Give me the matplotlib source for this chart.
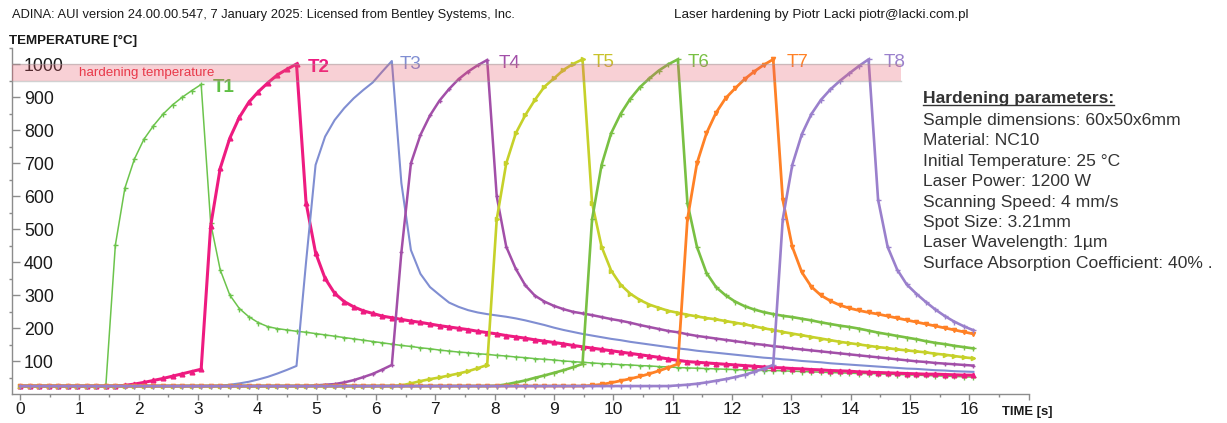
import numpy as np
import matplotlib
matplotlib.use('Agg')
import matplotlib.pyplot as plt
from matplotlib.lines import Line2D

plt.rcParams['font.family'] = ['Liberation Sans', 'DejaVu Sans']

# ---------------- data ----------------
time_step = 0.1607          # s, solver step
n_steps = 100
time = np.arange(n_steps + 1) * time_step

T1 = [25, 25, 25, 25, 25, 25, 25, 25, 25, 25,
      452, 625, 713, 773, 814, 849, 877, 900, 920, 939,
      518, 377, 301, 260, 235, 217, 205, 199, 195, 191,
      188, 184, 180, 176, 172, 168, 164, 160, 156, 152,
      148, 145, 141, 138, 134, 131, 128, 126, 123, 121,
      118, 116, 113, 111, 108, 106, 104, 101, 99, 97,
      95, 93, 92, 90, 89, 87, 86, 84, 83, 81,
      80, 79, 78, 77, 76, 75, 74, 73, 72, 72,
      71, 70, 69, 68, 67, 66, 65, 64, 63, 63,
      62, 61, 60, 59, 58, 57, 56, 55, 54, 53,
      52]
T2 = [25, 25, 25, 25, 25, 25, 25, 25, 25, 25,
      25, 27, 31, 36, 42, 48, 55, 62, 69, 76,
      511, 685, 776, 839, 885, 917, 944, 968, 985, 1001,
      581, 429, 351, 306, 281, 265, 253, 245, 237, 232,
      227, 222, 218, 213, 208, 204, 200, 196, 191, 187,
      183, 178, 174, 170, 165, 161, 157, 153, 148, 144,
      140, 136, 132, 128, 124, 120, 116, 112, 107, 103,
      99, 97, 95, 93, 91, 89, 87, 85, 83, 81,
      80, 78, 77, 75, 74, 72, 71, 70, 68, 67,
      66, 65, 64, 63, 62, 61, 61, 60, 59, 58,
      58]
T3 = [25, 25, 25, 25, 25, 25, 25, 25, 25, 25,
      25, 25, 25, 25, 25, 25, 25, 25, 25, 25,
      25, 26, 29, 33, 38, 45, 53, 63, 74, 86,
      400, 695, 781, 831, 867, 897, 922, 945, 978, 1010,
      640, 437, 365, 325, 301, 278, 265, 255, 248, 243,
      239, 235, 230, 224, 217, 210, 202, 195, 189, 183,
      178, 173, 168, 164, 159, 155, 151, 147, 143, 139,
      136, 132, 129, 126, 123, 120, 117, 114, 111, 109,
      106, 104, 101, 99, 97, 94, 92, 90, 88, 86,
      84, 82, 80, 78, 77, 75, 73, 72, 70, 69,
      68]
T4 = [25, 25, 25, 25, 25, 25, 25, 25, 25, 25,
      25, 25, 25, 25, 25, 25, 25, 25, 25, 25,
      25, 25, 25, 25, 25, 25, 25, 25, 25, 25,
      25, 27, 29, 31, 36, 43, 52, 62, 75, 89,
      430, 700, 786, 845, 890, 925, 955, 978, 997, 1013,
      600, 447, 380, 330, 299, 281, 268, 258, 250, 245,
      240, 234, 228, 223, 217, 210, 204, 198, 192, 188,
      182, 177, 173, 169, 165, 161, 157, 153, 150, 146,
      143, 139, 136, 133, 130, 127, 124, 121, 118, 115,
      112, 109, 106, 103, 100, 98, 95, 93, 91, 89,
      87]
T5 = [25, 25, 25, 25, 25, 25, 25, 25, 25, 25,
      25, 25, 25, 25, 25, 25, 25, 25, 25, 25,
      25, 25, 25, 25, 25, 25, 25, 25, 25, 25,
      25, 25, 25, 25, 25, 25, 25, 25, 25, 25,
      27, 33, 40, 46, 51, 57, 63, 70, 79, 89,
      530, 700, 791, 846, 892, 932, 957, 983, 1001, 1015,
      580, 447, 375, 332, 305, 286, 272, 262, 253, 247,
      241, 236, 231, 227, 222, 217, 212, 206, 200, 195,
      189, 184, 179, 174, 169, 164, 159, 155, 151, 147,
      143, 140, 136, 133, 130, 127, 123, 120, 116, 112,
      109]
T6 = [25, 25, 25, 25, 25, 25, 25, 25, 25, 25,
      25, 25, 25, 25, 25, 25, 25, 25, 25, 25,
      25, 25, 25, 25, 25, 25, 25, 25, 25, 25,
      25, 25, 25, 25, 25, 25, 25, 25, 25, 25,
      25, 25, 25, 25, 25, 25, 25, 25, 25, 25,
      26, 30, 36, 42, 50, 57, 65, 73, 82, 92,
      530, 695, 791, 850, 895, 930, 957, 981, 1000, 1015,
      580, 447, 368, 325, 300, 281, 267, 257, 249, 243,
      238, 234, 229, 224, 218, 213, 208, 204, 199, 193,
      187, 182, 177, 172, 167, 161, 156, 152, 147, 143,
      139]
T7 = [25, 25, 25, 25, 25, 25, 25, 25, 25, 25,
      25, 25, 25, 25, 25, 25, 25, 25, 25, 25,
      25, 25, 25, 25, 25, 25, 25, 25, 25, 25,
      25, 25, 25, 25, 25, 25, 25, 25, 25, 25,
      25, 25, 25, 25, 25, 25, 25, 25, 25, 25,
      25, 25, 25, 25, 25, 25, 25, 25, 25, 25,
      27, 30, 35, 41, 47, 54, 62, 71, 81, 92,
      530, 700, 791, 853, 897, 927, 955, 978, 998, 1015,
      590, 447, 370, 326, 300, 283, 270, 261, 254, 248,
      243, 237, 231, 225, 219, 213, 207, 201, 195, 189,
      183]
T8 = [25, 25, 25, 25, 25, 25, 25, 25, 25, 25,
      25, 25, 25, 25, 25, 25, 25, 25, 25, 25,
      25, 25, 25, 25, 25, 25, 25, 25, 25, 25,
      25, 25, 25, 25, 25, 25, 25, 25, 25, 25,
      25, 25, 25, 25, 25, 25, 25, 25, 25, 25,
      25, 25, 25, 25, 25, 25, 25, 25, 25, 25,
      25, 25, 25, 25, 25, 25, 25, 25, 25, 27,
      29, 32, 36, 41, 46, 52, 59, 68, 78, 89,
      530, 695, 788, 849, 892, 924, 950, 973, 995, 1015,
      590, 447, 378, 333, 305, 280, 257, 237, 220, 206,
      194]

series = [T1, T2, T3, T4, T5, T6, T7, T8]
series_names = ['T1', 'T2', 'T3', 'T4', 'T5', 'T6', 'T7', 'T8']
for s in series:
    assert len(s) == len(time)

hardening_range = (950, 1000)
hardening_label = 'hardening temperature'
x_ticks = list(range(0, 18))
x_tick_labels = [str(i) for i in range(17)] + ['']
y_ticks = list(range(100, 1001, 100))
header_left = 'ADINA: AUI version 24.00.00.547, 7 January 2025: Licensed from Bentley Systems, Inc.'
header_right = 'Laser hardening by Piotr Lacki piotr@lacki.com.pl'
y_title = 'TEMPERATURE [\u00b0C]'
x_title = 'TIME [s]'
params_title = 'Hardening parameters:'
params_lines = ['Sample dimensions: 60x50x6mm',
                'Material: NC10',
                'Initial Temperature: 25 \u00b0C',
                'Laser Power: 1200 W',
                'Scanning Speed: 4 mm/s',
                'Spot Size: 3.21mm',
                'Laser Wavelength: 1\u00b5m',
                'Surface Absorption Coefficient: 40% .']

# ---------------- styles ----------------
colors = ['#6cc44c', '#ee1b80', '#808ed2', '#a24fa8', '#c6d12a',
          '#79c043', '#ff8126', '#9a80cc']
label_colors = ['#5fbf44', '#ee1b80', '#808ed2', '#a24fa8', '#c9c22a',
                '#79c043', '#ff8126', '#9a80cc']
linewidths = [1.1, 2.2, 1.5, 1.8, 1.9, 1.9, 2.0, 1.9]
markers = ['+', '^', None, '+', '>', '+', 'v', '+']
msizes = [3.6, 3.4, 0, 3.0, 3.0, 3.6, 3.0, 3.6]
label_bold = [True, True, False, False, False, False, False, False]
label_dx_px = [12, 11, 8, 11, 10, 10, 13, 15]

W, H = 1227, 423
fig = plt.figure(figsize=(W / 100, H / 100), dpi=100)
ax = fig.add_axes([12.3 / W, 28.7 / H, 1016.3 / W, 346.5 / H])
ax.set_xlim(-0.13, 17.0)
ax.set_ylim(0, 1050)
ax.patch.set_alpha(0)

axis_gray = '#8c8c8c'
for sp in ['top', 'right']:
    ax.spines[sp].set_visible(False)
for sp in ['left', 'bottom']:
    ax.spines[sp].set_color(axis_gray)
    ax.spines[sp].set_linewidth(1.0)

ax.set_xticks(x_ticks)
ax.set_xticklabels(x_tick_labels)
ax.set_xticks(np.arange(0.5, 17, 1.0), minor=True)
ax.tick_params(axis='x', which='major', direction='out', length=4, width=1,
               color=axis_gray, pad=1.5, labelsize=12.5, labelcolor='#1a1a1a')
ax.tick_params(axis='x', which='minor', direction='out', length=2, width=1,
               color=axis_gray)
ax.set_yticks(y_ticks)
ax.set_yticks(np.arange(50, 1051, 100), minor=True)
ax.tick_params(axis='y', which='major', direction='in', length=6, width=1,
               color=axis_gray, pad=-8.4, labelsize=12.8, labelcolor='#1a1a1a')
ax.tick_params(axis='y', which='minor', direction='out', length=2.5, width=1,
               color=axis_gray)
plt.setp(ax.get_yticklabels(), ha='left')

# curves
for i, (name, vals) in enumerate(zip(series_names, series)):
    kw = dict(color=colors[i], lw=linewidths[i], zorder=3 + i, clip_on=False)
    if markers[i]:
        kw.update(marker=markers[i], ms=msizes[i], mew=1.0)
    ax.plot(time, vals, **kw)
    k = int(np.argmax(vals))
    ax.annotate(name, xy=(time[k], vals[k]),
                xytext=(label_dx_px[i] * 0.72, -3.5 * 0.72),
                textcoords='offset points', ha='left', va='center',
                color=label_colors[i], fontsize=13.5,
                fontweight='bold' if label_bold[i] else 'normal', zorder=2)

# hardening band (drawn over curves, translucent)
band_xmax = (14.85 + 0.13) / 17.13
ax.axhspan(hardening_range[0], hardening_range[1], xmin=0, xmax=band_xmax,
           facecolor=(232 / 255, 88 / 255, 105 / 255), alpha=0.28, lw=0, zorder=20)
for yv in hardening_range:
    ax.axhline(yv, xmin=0, xmax=band_xmax, color='#9a9a9a', lw=1, alpha=0.45, zorder=20)
ax.text(1.0, 974, hardening_label, color='#e8394a', fontsize=9.6, ha='left',
        va='center', zorder=21)

# figure texts
fig.text(12 / W, 1 - 15 / H, header_left, fontsize=9.3, ha='left', va='center', color='#1a1a1a')
fig.text(674 / W, 1 - 15 / H, header_right, fontsize=9.6, ha='left', va='center', color='#1a1a1a')
fig.text(9 / W, 1 - 40.7 / H, y_title, fontsize=9.6, fontweight='bold', ha='left', va='center', color='#1a1a1a')
fig.text(1002 / W, 1 - 412 / H, x_title, fontsize=9.4, fontweight='bold', ha='left', va='center', color='#1a1a1a')

px_left = 922.7
baselines = [102.7, 125, 145.4, 165.8, 186.2, 206.6, 227, 247.4, 267.8]
t_title = fig.text(px_left / W, 1 - baselines[0] / H, params_title, fontsize=12.6,
                   fontweight='bold', ha='left', va='baseline', color='#333333')
for line, b in zip(params_lines, baselines[1:]):
    fig.text(px_left / W, 1 - b / H, line, fontsize=12.6, ha='left',
             va='baseline', color='#333333')

fig.canvas.draw()
bb = t_title.get_window_extent()
fig.add_artist(Line2D([bb.x0 / W, bb.x1 / W], [1 - 104.8 / H, 1 - 104.8 / H],
                      transform=fig.transFigure, color='#333333', lw=1.0))

fig.savefig('out.png', dpi=100)
